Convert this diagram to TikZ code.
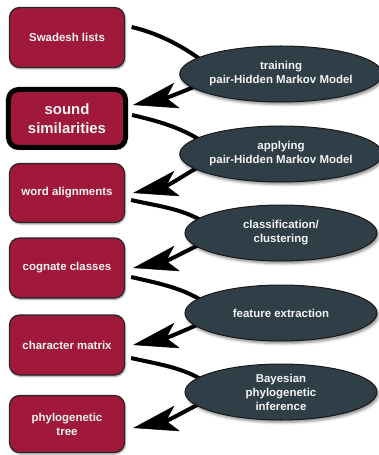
\documentclass[tikz,border=0pt]{standalone}
\usepackage{fontspec}
\setmainfont{Liberation Sans}
\usetikzlibrary{arrows.meta,shapes.geometric,shadows.blur,calc}
\definecolor{boxred}{RGB}{160,25,58}
\definecolor{slate}{RGB}{47,62,71}
\definecolor{labelwhite}{RGB}{244,244,244}
\pgfdeclarelayer{back}
\pgfsetlayers{back,main}
\tikzset{
  stagebox/.style={rounded corners=10bp, fill=boxred, draw=black!85,
    line width=1.2bp, minimum width=115bp, minimum height=60bp,
    inner sep=2bp, text=labelwhite, align=center,
    font=\fontsize{11.5}{14}\selectfont\bfseries,
    blur shadow={shadow xshift=1bp, shadow yshift=-1.5bp,
      shadow blur radius=1.5bp, shadow opacity=40}},
  keybox/.style={stagebox, line width=5bp, draw=black,
    minimum width=117bp, minimum height=58bp,
    font=\fontsize{15}{19}\selectfont\bfseries},
  method/.style={ellipse, fill=slate, draw=black!90, line width=1bp,
    minimum width=192bp, minimum height=56bp, inner sep=0pt,
    text=labelwhite, align=center,
    font=\fontsize{11.5}{14}\selectfont\bfseries,
    blur shadow={shadow xshift=1.5bp, shadow yshift=-2.5bp,
      shadow blur radius=2.5bp, shadow opacity=45}},
  flow/.style={line width=4bp, draw=black},
  flowtip/.style={flow, -{Stealth[length=45bp, width=26bp, inset=11bp, line width=0.5bp]}}
}
\begin{document}
\begin{tikzpicture}[x=1bp,y=-1bp]
\useasboundingbox (0,0) rectangle (378,455);

% pipeline stages
\node[stagebox] (b1) at (67,37.5) {Swadesh lists};
\node[keybox] (b2) at (67,118.5) {sound\\similarities};
\node[stagebox, minimum height=59bp] (b3) at (67,193) {word alignments};
\node[stagebox] (b4) at (67,268) {cognate classes};
\node[stagebox] (b5) at (67,345) {character matrix};
\node[stagebox, minimum height=57bp] (b6) at (67,424) {phylogenetic\\tree};

% methods between stages
\node[method] (m1) at (281,74) {training\\pair-Hidden Markov Model};
\node[method] (m2) at (281,154) {applying\\pair-Hidden Markov Model};
\node[method] (m3) at (281,233) {classification/\\clustering};
\node[method] (m4) at (281,313) {feature extraction};
\node[method] (m5) at (281,392) {Bayesian\\phylogenetic\\inference};

% curved connectors, passing behind the ellipses
\begin{pgfonlayer}{back}
\draw[flow] ($(b1.east)+(6.5,-10.5)$) .. controls +(30,7) and +(-25,-22) .. ($(m1.center)+(-65,-2)$);
\draw[flowtip] ($(m1.center)+(-65,4)$) .. controls +(-15,6) and +(37,-8) .. ($(b2.east)+(5,-13.5)$);

\draw[flow] ($(b2.east)+(4,-3.5)$) .. controls +(30,7) and +(-25,-22) .. ($(m2.center)+(-65,-2)$);
\draw[flowtip] ($(m2.center)+(-65,4)$) .. controls +(-15,6) and +(37,-8) .. ($(b3.east)+(8,0)$);

\draw[flow] ($(b3.east)+(6,7)$) .. controls +(30,7) and +(-25,-22) .. ($(m3.center)+(-65,-2)$);
\draw[flowtip] ($(m3.center)+(-65,4)$) .. controls +(-15,6) and +(37,-8) .. ($(b4.east)+(8,0)$);

\draw[flow] ($(b4.east)+(6,9)$) .. controls +(30,7) and +(-25,-22) .. ($(m4.center)+(-65,-2)$);
\draw[flowtip] ($(m4.center)+(-65,4)$) .. controls +(-15,6) and +(37,-8) .. ($(b5.east)+(8,0)$);

\draw[flow] ($(b5.east)+(6,13)$) .. controls +(30,7) and +(-25,-22) .. ($(m5.center)+(-65,-2)$);
\draw[flowtip] ($(m5.center)+(-65,4)$) .. controls +(-15,6) and +(37,-8) .. ($(b6.east)+(8,4)$);
\end{pgfonlayer}
\end{tikzpicture}
\end{document}
